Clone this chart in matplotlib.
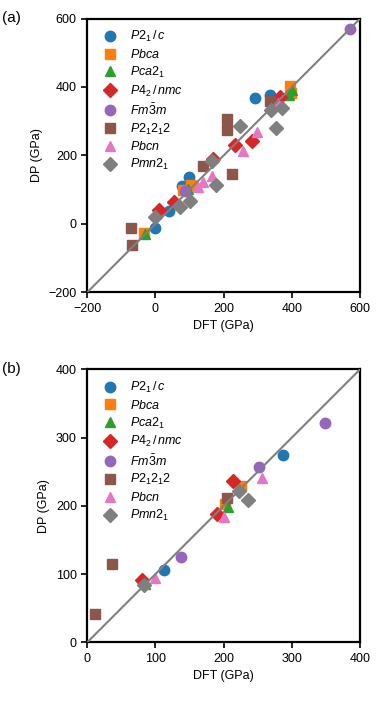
import matplotlib
matplotlib.use("Agg")
import matplotlib.pyplot as plt

plt.rcParams['font.family'] = ['Liberation Sans', 'DejaVu Sans']
plt.rcParams['mathtext.fontset'] = 'custom'
plt.rcParams['mathtext.rm'] = 'Liberation Sans'
plt.rcParams['mathtext.it'] = 'Liberation Sans:italic'
plt.rcParams['axes.unicode_minus'] = True

labels = [r'$P2_1\,/\,c$', r'$Pbca$', r'$Pca2_1$', r'$P4_2\,/\,nmc$',
          r'$Fm\bar{3}m$', r'$P2_12_12$', r'$Pbcn$', r'$Pmn2_1$']
markers = ['o', 's', '^', 'D', 'o', 's', '^', 'D']

# panel (a): DFT vs DP, GPa
dft_a = [
    [-2, 40, 77, 99, 291, 337],
    [-33, 82, 105, 394, 398],
    [-30, 95, 399, 390],
    [10, 55, 170, 233, 284, 365],
    [88, 570],
    [-73, -70, 138, 211, 211, 225, 335],
    [125, 140, 165, 257, 298, 360],
    [-2, 72, 101, 165, 177, 249, 340, 370, 353],
]
dp_a = [
    [-12, 37, 110, 136, 369, 377],
    [-27, 99, 115, 402, 382],
    [-31, 103, 391, 378],
    [40, 64, 190, 229, 241, 371],
    [95, 570],
    [-13, -63, 168, 305, 274, 145, 360],
    [108, 123, 140, 213, 268, 352],
    [21, 50, 68, 184, 114, 286, 334, 338, 281],
]

# panel (b)
dft_b = [
    [112, 287],
    [202, 225],
    [84, 207],
    [81, 190, 214],
    [138, 252, 349],
    [12, 36, 205],
    [99, 200, 256],
    [83, 223, 236],
]
dp_b = [
    [106, 275],
    [203, 229],
    [85, 198],
    [92, 188, 237],
    [125, 257, 322],
    [41, 115, 212],
    [94, 183, 241],
    [84, 221, 208],
]

fig = plt.figure(figsize=(3.86, 7.02), dpi=100)
ax1 = fig.add_axes([0.226, 0.5836, 0.707, 0.390])
ax2 = fig.add_axes([0.226, 0.085, 0.707, 0.389])


def panel(ax, xs, ys, lim, ticks):
    for i in range(len(labels)):
        ax.plot(xs[i], ys[i], linestyle='none', marker=markers[i],
                color='C%d' % i, markersize=7.5 if markers[i] != 'D' else 7,
                label=labels[i])
    ax.plot(lim, lim, color='gray', lw=1.5, zorder=5)
    ax.set_xlim(lim)
    ax.set_ylim(lim)
    ax.set_xticks(ticks)
    ax.set_yticks(ticks)
    ax.set_xlabel('DFT (GPa)', fontsize=9)
    ax.set_ylabel('DP (GPa)', fontsize=9)
    ax.tick_params(labelsize=9, width=1.2, length=4)
    for s in ax.spines.values():
        s.set_linewidth(1.6)
    ax.legend(loc='upper left', frameon=False, fontsize=9,
              labelspacing=0.3, handlelength=2.0, handletextpad=0.6,
              borderpad=0.4, borderaxespad=0.45)


panel(ax1, dft_a, dp_a, [-200, 600], [-200, 0, 200, 400, 600])
panel(ax2, dft_b, dp_b, [0, 400], [0, 100, 200, 300, 400])

fig.text(0.005, 0.985, '(a)', fontsize=11, va='top')
fig.text(0.005, 0.485, '(b)', fontsize=11, va='top')

fig.savefig('out.png', dpi=100)
